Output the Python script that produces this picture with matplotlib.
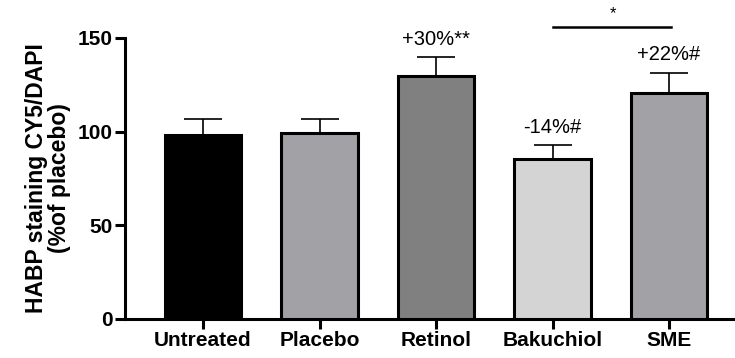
import numpy as np
import matplotlib.pyplot as plt

# Data
groups = ['Untreated', 'Placebo', 'Retinol', 'Bakuchiol', 'SME']
means = [98.2, 99.1, 129.7, 85.3, 120.8]
sem = [8.4, 7.5, 10.0, 7.3, 10.7]
labels = ['', '', '+30%**', '-14%#', '+22%#']
colors = ['#000000', '#a2a2a6', '#808080', '#d4d4d4', '#a2a2a6']

plt.rcParams['font.family'] = ['Liberation Sans', 'DejaVu Sans']

fig = plt.figure(figsize=(7.35, 3.58), dpi=100)
ax = fig.add_axes([0.170, 0.109, 0.829, 0.785])

x = np.arange(len(groups))
ax.bar(x, means, width=0.66, color=colors, edgecolor='black', linewidth=2.2, zorder=3)
ax.errorbar(x, means, yerr=[np.zeros(len(sem)), sem], fmt='none', ecolor='black',
            elinewidth=1.2, capsize=13.5, capthick=1.2, zorder=2)

# Percent labels above bars
for xi, m, e, t in zip(x, means, sem, labels):
    if t:
        ax.annotate(t, (xi, m + e), xytext=(0, 6), textcoords='offset points',
                    ha='center', va='bottom', fontsize=14.5)

# Significance bar between Bakuchiol and SME
ax.plot([3.0, 4.02], [156, 156], color='black', linewidth=1.8, clip_on=False)
ax.text(3.52, 159, '*', ha='center', va='bottom', fontsize=12)

ax.set_xlim(-0.67, 4.56)
ax.set_ylim(0, 150)
ax.set_yticks([0, 50, 100, 150])
ax.set_xticks(x)
ax.set_xticklabels(groups, fontsize=15, fontweight='bold')
for lab in ax.get_yticklabels():
    lab.set_fontsize(15)
    lab.set_fontweight('bold')

ax.set_ylabel('HABP staining CY5/DAPI\n(%of placebo)', fontsize=16.5, fontweight='bold',
              linespacing=1.0, labelpad=5)

ax.spines['top'].set_visible(False)
ax.spines['right'].set_visible(False)
ax.spines['left'].set_linewidth(2.2)
ax.spines['bottom'].set_linewidth(2.2)
ax.tick_params(axis='both', width=2.2, length=7, direction='out', pad=2)

plt.savefig('out.png', dpi=100)
